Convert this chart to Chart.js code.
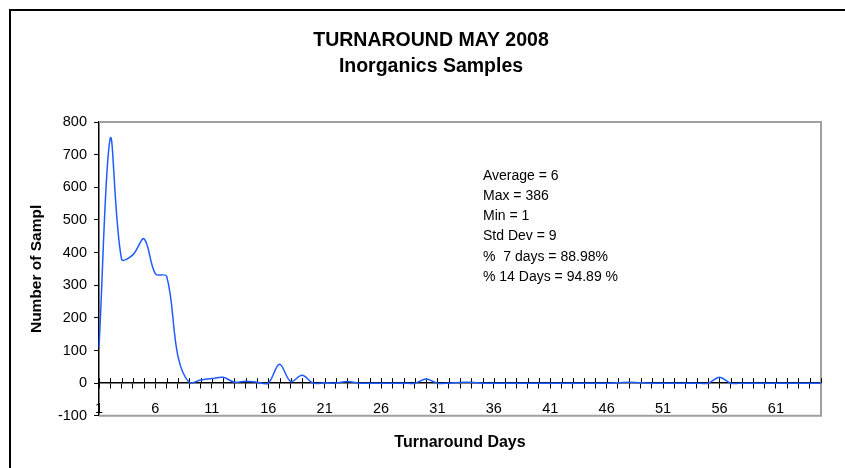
<!DOCTYPE html>
<html>
<head>
<meta charset="utf-8">
<script src="https://cdn.jsdelivr.net/npm/chart.js@4.4.1/dist/chart.umd.min.js"></script>
<style>
  html, body { margin: 0; padding: 0; background: #fff; }
  #wrap { width: 845px; height: 468px; }
</style>
</head>
<body>
<div id="wrap"><canvas id="grafico" width="845" height="468"></canvas></div>
<script>
// dias de turnaround (eixo x)
const dias = [
  1, 2, 3, 4, 5, 6, 7, 8, 9, 10, 11, 12, 13, 14, 15, 16, 17, 18, 19, 20,
  21, 22, 23, 24, 25, 26, 27, 28, 29, 30, 31, 32, 33, 34, 35, 36, 37, 38, 39, 40,
  41, 42, 43, 44, 45, 46, 47, 48, 49, 50, 51, 52, 53, 54, 55, 56, 57, 58, 59, 60,
  61, 62, 63, 64, 65
];

// numero de amostras por dia
const amostras = [
  110, 750, 380, 393, 442, 335, 327, 82, 2, 10, 14, 18, 3, 6, 3, 0, 58, 5, 24, 0,
  1, 0, 5, 0, 0, 0, 0, 0, 0, 13, 0, 0, 2, 3, 0, 0, 0, 0, 0, 0,
  0, 0, 0, 0, 0, 0, 1, 3, 1, 0, 0, 0, 0, 0, 0, 18, 0, 0, 0, 0,
  0, 0, 0, 0, 0
];

const titulo = ["TURNAROUND MAY 2008", "Inorganics Samples"];
const estatisticas = [
  "Average = 6",
  "Max = 386",
  "Min = 1",
  "Std Dev = 9",
  "%  7 days = 88.98%",
  "% 14 Days = 94.89 %"
];

const FONTE = '"Liberation Sans", Arial, sans-serif';

const moldura = {
  id: "moldura",
  beforeDraw(chart) {
    const c = chart.ctx;
    c.save();
    c.fillStyle = "#fff";
    c.fillRect(0, 0, chart.width, chart.height);
    c.strokeStyle = "#000";
    c.lineWidth = 2;
    c.beginPath();
    c.moveTo(10, chart.height);
    c.lineTo(10, 10);
    c.lineTo(chart.width, 10);
    c.stroke();
    c.restore();
  },
  beforeDatasetsDraw(chart) {
    const { ctx, chartArea: a, scales } = chart;
    ctx.save();
    ctx.strokeStyle = "#a0a0a0";
    ctx.lineWidth = 2;
    ctx.beginPath();
    ctx.moveTo(a.left, a.top);
    ctx.lineTo(a.right, a.top);
    ctx.lineTo(a.right, a.bottom);
    ctx.lineTo(a.left, a.bottom);
    ctx.stroke();

    // metade de cima das marcas do eixo x (cruzando o eixo)
    const y0 = scales.y.getPixelForValue(0);
    ctx.strokeStyle = "#000";
    ctx.lineWidth = 1;
    scales.x.ticks.forEach((t, i) => {
      const x = Math.round(scales.x.getPixelForTick(i)) + 0.5;
      ctx.beginPath();
      ctx.moveTo(x, y0 - 5);
      ctx.lineTo(x, y0);
      ctx.stroke();
    });
    ctx.restore();
  },
  afterDraw(chart) {
    const ctx = chart.ctx;
    ctx.save();
    ctx.fillStyle = "#000";
    ctx.font = "14px " + FONTE;
    ctx.textBaseline = "middle";
    ctx.textAlign = "left";
    estatisticas.forEach((linha, i) => {
      ctx.fillText(linha, 483, 176 + i * 20.2);
    });
    ctx.restore();
  }
};

new Chart(document.getElementById("grafico").getContext("2d"), {
  type: "line",
  data: {
    labels: dias,
    datasets: [{
      label: "Samples",
      data: amostras,
      borderColor: "#1f5cff",
      borderWidth: 1.5,
      pointRadius: 0,
      tension: 0.35,
      fill: false
    }]
  },
  options: {
    responsive: false,
    animation: false,
    devicePixelRatio: 1,
    layout: { padding: { left: 41, right: 24, top: 0, bottom: 0 } },
    plugins: {
      legend: { display: false },
      tooltip: { enabled: false },
      title: {
        display: true,
        text: titulo,
        color: "#000",
        font: { family: FONTE, size: 19.5, weight: "bold", lineHeight: "26px" },
        padding: { top: 28, bottom: 42 }
      },
      subtitle: {
        display: true,
        position: "bottom",
        fullSize: false,
        text: "Turnaround Days",
        color: "#000",
        font: { family: FONTE, size: 16, weight: "bold", lineHeight: 1.2 },
        padding: { top: 17, bottom: 16 }
      }
    },
    scales: {
      x: {
        type: "category",
        position: { y: 0 },
        offset: false,
        grid: { drawOnChartArea: false, color: "#000", tickLength: 5 },
        border: { color: "#000", width: 1.5 },
        ticks: {
          autoSkip: false,
          maxRotation: 0,
          minRotation: 0,
          padding: 12,
          color: "#000",
          font: { family: FONTE, size: 14.5 },
          callback: function (v, i) {
            return i % 5 === 0 ? this.getLabelForValue(v) : "";
          }
        }
      },
      y: {
        min: -100,
        max: 800,
        afterFit(scale) { scale.width = 58; },
        grid: { drawOnChartArea: false, color: "#000", tickLength: 5 },
        border: { color: "#000", width: 1.5 },
        ticks: {
          stepSize: 100,
          padding: 7,
          color: "#000",
          font: { family: FONTE, size: 14.5 }
        },
        title: {
          display: true,
          text: "Number of Sampl",
          color: "#000",
          font: { family: FONTE, size: 15.5, weight: "bold", lineHeight: 1.2 },
          padding: { top: -14, bottom: 0 }
        }
      }
    }
  },
  plugins: [moldura]
});
</script>
</body>
</html>
